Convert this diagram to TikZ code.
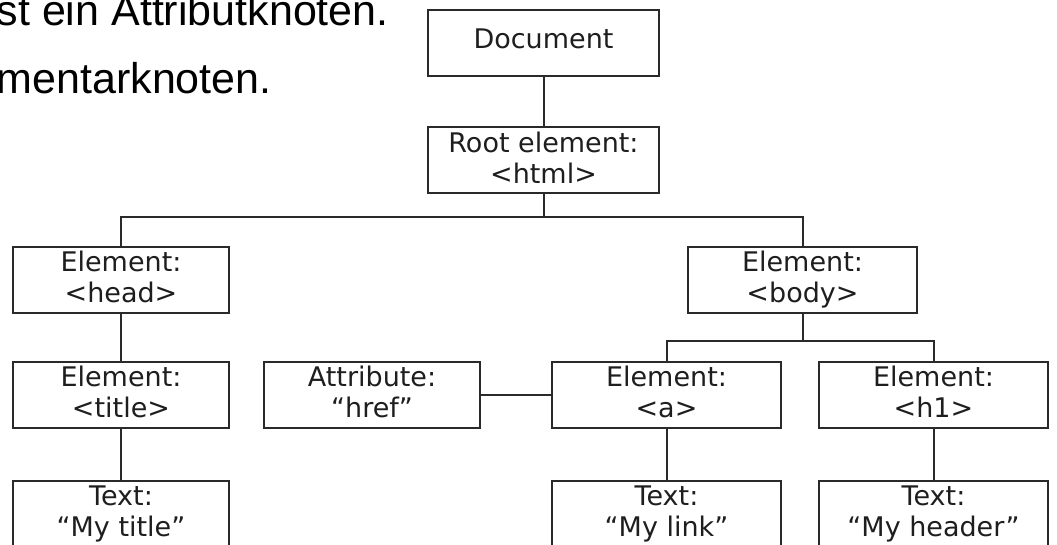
\documentclass[tikz,border=0pt]{standalone}
\usepackage{fontspec}
\setmainfont{Liberation Sans}
\newfontfamily\boxfont{DejaVu Sans}
\definecolor{linec}{HTML}{2A2A2A}
\definecolor{textc}{HTML}{1E1E1E}
\newcommand\TwoL[2]{\rule{0pt}{25pt}#1\\#2\rule[-10pt]{0pt}{10pt}}
\begin{document}
\begin{tikzpicture}[x=1pt,y=-1pt,
  box/.style={draw=linec, line width=2pt, inner sep=0pt,
    minimum height=66pt, align=center, text=textc,
    font={\boxfont\fontsize{27pt}{31pt}\selectfont}},
  narrowbox/.style={box, minimum width=216pt},
  widebox/.style={box, minimum width=229pt},
  conn/.style={draw=linec, line width=2pt},
  prose/.style={anchor=base west, inner sep=0pt, text=black,
    font={\fontsize{43pt}{50pt}\selectfont}}]
\useasboundingbox (0,0) rectangle (1057,544);
\clip (0,0) rectangle (1057,544);
% prose text
\node[prose] (p1) at (-3.5,25) {st ein Attributknoten.};
\node[prose] (p2) at (-3.5,93) {mentarknoten.};
% boxes
\node[box, minimum width=231pt] (doc) at (543.5,42.5) {\rule[-27.5pt]{0pt}{66pt}Document};
\node[box, minimum width=231pt] (root) at (543.5,160) {\TwoL{Root element:}{<html>}};
\node[narrowbox] (head) at (121,279.5) {\TwoL{Element:}{<head>}};
\node[widebox] (body) at (802.5,279.5) {\TwoL{Element:}{<body>}};
\node[narrowbox] (title) at (121,394.5) {\TwoL{Element:}{<title>}};
\node[narrowbox] (attr) at (372,394.5) {\TwoL{Attribute:}{“href”}};
\node[widebox] (a) at (666.5,394.5) {\TwoL{Element:}{<a>}};
\node[widebox] (h1) at (933.5,394.5) {\TwoL{Element:}{<h1>}};
\node[narrowbox] (ttitle) at (121,513.5) {\TwoL{Text:}{“My title”}};
\node[widebox] (tlink) at (666.5,513.5) {\TwoL{Text:}{“My link”}};
\node[widebox] (theader) at (933.5,513.5) {\TwoL{Text:}{“My header”}};
% connectors
\coordinate (j1) at (543.5,217);
\coordinate (j2) at (802.5,341);
\draw[conn] (doc) -- (root);
\draw[conn] (root.south) -- (j1);
\draw[conn] (head.north) |- (j1) -| (body.north);
\draw[conn] (head) -- (title);
\draw[conn] (title) -- (ttitle);
\draw[conn] (body.south) -- (j2);
\draw[conn] (a.north) |- (j2) -| (h1.north);
\draw[conn] (attr) -- (a);
\draw[conn] (a) -- (tlink);
\draw[conn] (h1) -- (theader);
\end{tikzpicture}
\end{document}
